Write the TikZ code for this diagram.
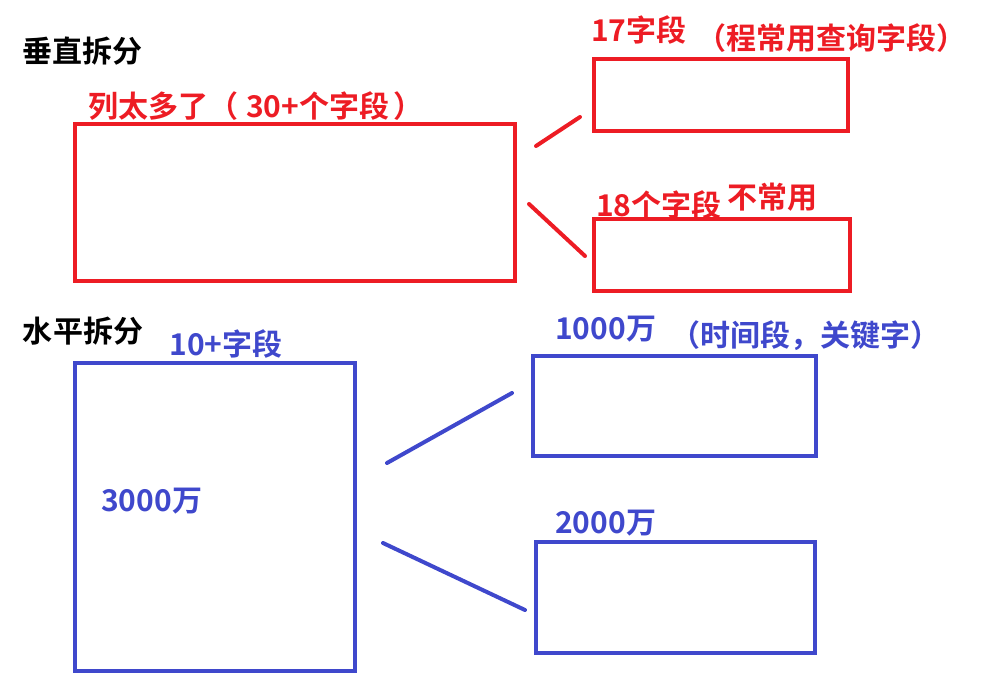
\documentclass[tikz,border=0pt]{standalone}
\usepackage{fontspec}
\setmainfont{Noto Sans CJK SC}[BoldFont={Noto Sans CJK SC Bold}]
\usepackage{xcolor}
\usepackage{tikz}
\usetikzlibrary{positioning}
\definecolor{paintred}{HTML}{ED1C24}
\definecolor{paintblue}{HTML}{3F48CC}
\tikzstyle{title} = [inner sep=0pt, text=black]
\tikzstyle{redtext} = [inner sep=0pt, text=paintred]
\tikzstyle{bluetext} = [inner sep=0pt, text=paintblue]
\tikzstyle{redbox} = [rectangle, draw=paintred, line width=4.5pt, inner sep=0pt]
\tikzstyle{bluebox} = [rectangle, draw=paintblue, line width=4.5pt, inner sep=0pt]
\tikzstyle{redline} = [draw=paintred, line width=4pt, line cap=round]
\tikzstyle{blueline} = [draw=paintblue, line width=4pt, line cap=round]

\begin{document}
\begin{tikzpicture}[x=1pt, y=-1pt, font=\fontsize{30}{34}\selectfont\bfseries]
\useasboundingbox (0,0) rectangle (1003,682);

\node (vtitle) [title] at (82,51) {垂直拆分};
\node (htitle) [title] at (83,331) {水平拆分};

% labels
\node (vlabel) [redtext, anchor=west] at (88,106) {列太多了（\hspace{8pt}30+个字段\hspace{4pt}）};
\node (f17) [redtext, anchor=west] at (591,30) {17字段};
\node (f17note) [redtext] at (831,38) {（程常用查询字段）};
\node (f18) [redtext, anchor=west] at (596,205) {18个字段};
\node (f18note) [redtext, right=5pt of f18, yshift=8pt] {不常用};
\node (hlabel) [bluetext] at (226,344) {10+字段};
\node (rows) [bluetext, anchor=west] at (101,501) {3000万};
\node (rows1) [bluetext, anchor=west] at (555,329) {1000万};
\node (rows1note) [bluetext] at (805,336) {（时间段，关键字）};
\node (rows2) [bluetext, anchor=west] at (555,523) {2000万};

% tables
\node (vbig) [redbox, minimum width=440pt, minimum height=157pt] at (295,202.5) {};
\node (vtop) [redbox, minimum width=254pt, minimum height=72pt] at (721,95) {};
\node (vbot) [redbox, minimum width=256pt, minimum height=72pt] at (722,255) {};
\node (hbig) [bluebox, minimum width=280pt, minimum height=308pt] at (215,517) {};
\node (htop) [bluebox, minimum width=283pt, minimum height=100pt] at (674.5,406) {};
\node (hbot) [bluebox, minimum width=279pt, minimum height=111pt] at (675.5,597.5) {};

% strokes
\coordinate (r1a) at (536,146);
\coordinate (r1b) at (580,117);
\coordinate (r2a) at (529,204);
\coordinate (r2b) at (585,256);
\coordinate (b1a) at (387,463);
\coordinate (b1b) at (512,393);
\coordinate (b2a) at (383,543);
\coordinate (b2b) at (525,610);
\draw [redline] (r1a) -- (r1b);
\draw [redline] (r2a) -- (r2b);
\draw [blueline] (b1a) -- (b1b);
\draw [blueline] (b2a) -- (b2b);

\end{tikzpicture}
\end{document}
